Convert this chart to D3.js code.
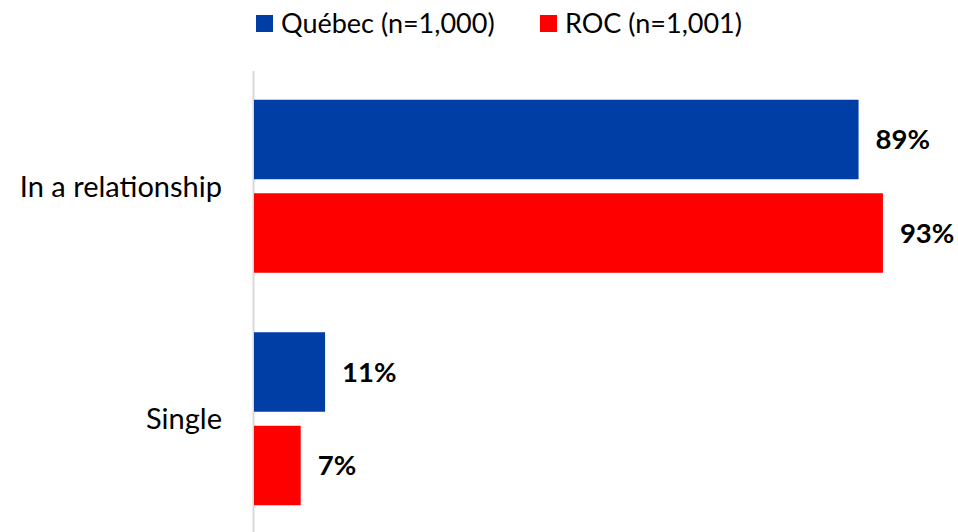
<!DOCTYPE html>
<html><head><meta charset="utf-8">
<script src="https://cdn.jsdelivr.net/npm/d3@7"></script>
<style>body{margin:0;background:#fff}svg{display:block}</style>
</head><body><svg id="c" width="958" height="532"></svg>
<script>
const categories = ["In a relationship", "Single"];
const seriesNames = ["Québec (n=1,000)", "ROC (n=1,001)"];
const quebec = [89.3, 10.5];
const roc = [92.9, 6.9];
const colors = ["#003DA5", "#FF0000"];

const svg = d3.select("#c");
const font = "Lato, 'Open Sans', sans-serif";
const x = d3.scaleLinear().domain([0, 100]).range([254, 931]);
const y0 = d3.scaleBand().domain(categories).range([70, 535]);
const y1 = d3.scaleBand().domain(seriesNames).range([0, y0.bandwidth()]).paddingInner(0.15).paddingOuter(0.318);

const data = categories.map((c, i) => ({cat: c, vals: [quebec[i], roc[i]]}));

svg.append("line").attr("x1", 253.5).attr("x2", 253.5).attr("y1", 71).attr("y2", 532)
  .attr("stroke", "#d9d9d9").attr("stroke-width", 2);

const g = svg.selectAll("g.cat").data(data).join("g").attr("class","cat")
  .attr("transform", d => `translate(0,${y0(d.cat)})`);

g.selectAll("rect").data(d => d.vals.map((v, j) => ({v, s: seriesNames[j], j})))
  .join("rect")
  .attr("x", x(0)).attr("y", d => y1(d.s))
  .attr("width", d => x(d.v) - x(0)).attr("height", y1.bandwidth())
  .attr("fill", d => colors[d.j]);

g.selectAll("text.val").data(d => d.vals.map((v, j) => ({v, s: seriesNames[j], j})))
  .join("text").attr("class","val")
  .attr("x", d => x(d.v) + 17).attr("y", d => y1(d.s) + y1.bandwidth()/2)
  .attr("dy", "0.36em").attr("font-family", font).attr("font-weight", "bold")
  .attr("font-size", 27.5).attr("fill", "#000")
  .text(d => Math.round(d.v) + "%");

g.append("text").attr("x", 222).attr("y", y0.bandwidth()/2).attr("dy", "0.36em")
  .attr("text-anchor", "end").attr("font-family", font).attr("font-size", 29).attr("fill", "#000")
  .text(d => d.cat);

const legendX = [256, 540];
const lg = svg.selectAll("g.leg").data(seriesNames).join("g").attr("class","leg")
  .attr("transform", (d, i) => `translate(${legendX[i]},0)`);
lg.append("rect").attr("x", 0).attr("y", 15).attr("width", 17).attr("height", 17).attr("fill", (d, i) => colors[i]);
lg.append("text").attr("x", 25).attr("y", 33).attr("font-family", font).attr("font-size", 27).attr("fill", "#000").text(d => d);
</script></body></html>
